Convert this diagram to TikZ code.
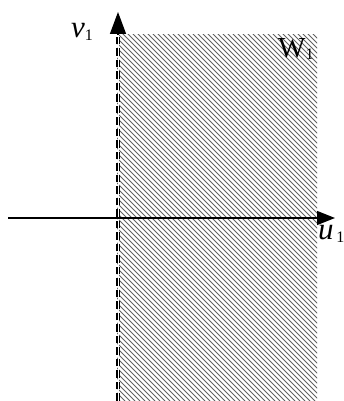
\documentclass[tikz,border=0pt]{standalone}
\usepackage{fontspec}
\setmainfont{Liberation Serif}
\usetikzlibrary{arrows.meta}
\tikzset{
  axisv/.style={line width=1.4pt,-{Triangle[length=22pt,width=16pt]}},
  axish/.style={line width=1.4pt,-{Triangle[length=18pt,width=14pt]}},
  hatchline/.style={line width=0.9pt,draw=black!62},
  lbl/.style={inner sep=0pt,anchor=base west},
}
\begin{document}
\begin{tikzpicture}[x=1pt,y=1pt]
\useasboundingbox (0,0) rectangle (343,401);
% hatched region
\begin{scope}
\clip (117,0) rectangle (317,366);
\foreach \c in {110,115,...,700} \draw[hatchline] (\c-401,401) -- (\c,0);
\end{scope}
% named coordinates
\coordinate (vb) at (118,0);
\coordinate (vt) at (118,366);
\coordinate (vtip) at (118,389);
\coordinate (hl) at (8,183);
\coordinate (hr) at (317,183);
\coordinate (htip) at (335,183);
% dashed boundary
\draw[line width=3.4pt,dash pattern=on 7.5pt off 4pt] (vb) -- (vt);
\draw[line width=0.8pt,white] (vb) -- (vt);
% axes
\draw[axisv] (vt) -- (vtip);
\draw[axish] (hl) -- (htip);
% labels
\node[lbl] (v1) at (71,363) {\fontsize{31}{31}\selectfont\textit{v}\raisebox{-0.15ex}{\fontsize{16}{16}\selectfont 1}};
\node[lbl] (u1) at (318,161) {\fontsize{31}{31}\selectfont\textit{u}\raisebox{-0.15ex}{\fontsize{16}{16}\selectfont\,1}};
\node[lbl] (w1) at (278,343) {\fontsize{29}{29}\selectfont W\raisebox{-0.15ex}{\fontsize{16}{16}\selectfont 1}};
\end{tikzpicture}
\end{document}
